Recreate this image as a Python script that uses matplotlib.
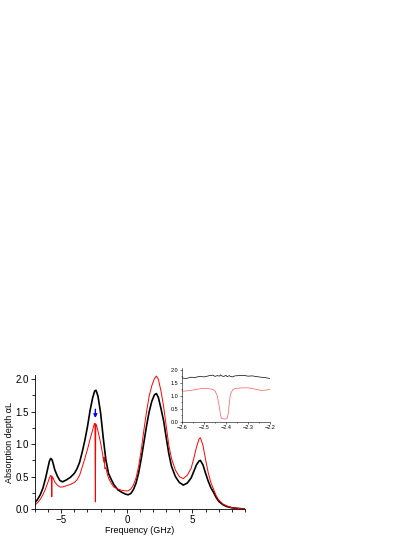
import numpy as np
import matplotlib.pyplot as plt
from matplotlib.ticker import MultipleLocator

plt.rcParams['font.family'] = ['Liberation Sans', 'DejaVu Sans']

# main spectrum
freq_black = [-7.0, -6.8, -6.6, -6.4, -6.2, -6.0, -5.9, -5.8, -5.7, -5.6, -5.5, -5.3, -5.1,
              -4.9, -4.6, -4.3, -4.0, -3.8, -3.6, -3.4, -3.2, -3.0, -2.8, -2.6, -2.45,
              -2.35, -2.2, -2.0, -1.8, -1.6, -1.4, -1.2, -1.0, -0.7, -0.4, -0.1, 0.1,
              0.3, 0.5, 0.7, 0.9, 1.1, 1.3, 1.5, 1.7, 1.9, 2.1, 2.25, 2.4, 2.6, 2.8,
              3.0, 3.2, 3.4, 3.7, 4.0, 4.3, 4.6, 4.9, 5.1, 5.3, 5.5, 5.6, 5.8, 6.0,
              6.2, 6.4, 6.6, 6.8, 7.0, 7.3, 7.6, 8.0, 8.5, 9.0]
abs_black = [0.10, 0.15, 0.22, 0.32, 0.47, 0.65, 0.74, 0.78, 0.76, 0.69, 0.61, 0.51, 0.44,
             0.42, 0.45, 0.49, 0.55, 0.62, 0.72, 0.88, 1.06, 1.27, 1.52, 1.72, 1.82,
             1.83, 1.74, 1.48, 1.10, 0.76, 0.55, 0.46, 0.38, 0.30, 0.26, 0.23, 0.22,
             0.24, 0.30, 0.40, 0.56, 0.78, 1.03, 1.28, 1.50, 1.66, 1.76, 1.78, 1.72, 1.55, 1.36,
             1.10, 0.85, 0.66, 0.50, 0.41, 0.37, 0.40, 0.48, 0.58, 0.68, 0.74, 0.75, 0.68, 0.55,
             0.43, 0.33, 0.26, 0.18, 0.12, 0.07, 0.04, 0.02, 0.01, 0.0]

freq_red = [-7.0, -6.8, -6.6, -6.4, -6.2, -6.0, -5.9, -5.8, -5.75, -5.72, -5.69, -5.6, -5.5,
            -5.3, -5.1, -4.9, -4.6, -4.3, -4.0, -3.8, -3.6, -3.4, -3.2, -3.0, -2.8,
            -2.6, -2.5, -2.43, -2.41, -2.40, -2.39, -2.37, -2.3, -2.2, -2.0, -1.85,
            -1.75, -1.72, -1.68, -1.6, -1.5, -1.4, -1.2, -1.0, -0.7, -0.4, -0.1, 0.1,
            0.3, 0.5, 0.7, 0.9, 1.1, 1.3, 1.5, 1.7, 1.9, 2.1, 2.25, 2.4, 2.6, 2.8,
            3.0, 3.2, 3.4, 3.7, 4.0, 4.3, 4.6, 4.9, 5.1, 5.3, 5.5, 5.6, 5.8, 6.0,
            6.2, 6.4, 6.6, 6.8, 7.0, 7.3, 7.6, 8.0, 8.5, 9.0]
abs_red = [0.06, 0.10, 0.15, 0.22, 0.31, 0.42, 0.48, 0.52, 0.51, 0.19, 0.50, 0.47, 0.42,
           0.37, 0.34, 0.34, 0.36, 0.38, 0.41, 0.45, 0.52, 0.65, 0.78, 0.92, 1.08,
           1.22, 1.30, 1.32, 0.40, 0.11, 0.40, 1.31, 1.28, 1.20, 1.02, 0.85,
           0.72, 0.80, 0.62, 0.64, 0.55, 0.48, 0.40, 0.34, 0.31, 0.29, 0.28, 0.28,
           0.31, 0.37, 0.48, 0.66, 0.92, 1.22, 1.50, 1.74, 1.90, 2.01, 2.05, 2.00, 1.82, 1.58,
           1.28, 0.98, 0.78, 0.60, 0.50, 0.47, 0.52, 0.63, 0.78, 0.95, 1.08, 1.10, 0.98, 0.76,
           0.56, 0.41, 0.31, 0.21, 0.14, 0.08, 0.05, 0.02, 0.01, 0.0]

# inset, zoom on the -2.4 GHz feature
ins_freq = [-2.60, -2.58, -2.56, -2.54, -2.52, -2.50, -2.48, -2.46, -2.45, -2.44, -2.43,
            -2.425, -2.42, -2.41, -2.40, -2.395, -2.39, -2.385, -2.38, -2.37, -2.36, -2.34,
            -2.32, -2.30, -2.28, -2.26, -2.24, -2.22, -2.20]
ins_black = [1.68, 1.66, 1.71, 1.70, 1.74, 1.72, 1.76, 1.79, 1.74, 1.77, 1.75,
             1.80, 1.76, 1.74, 1.78, 1.73, 1.75, 1.77, 1.74, 1.72, 1.76, 1.77,
             1.78, 1.75, 1.76, 1.73, 1.71, 1.69, 1.66]
ins_red = [1.17, 1.18, 1.20, 1.23, 1.26, 1.28, 1.27, 1.24, 1.18, 1.00, 0.55,
           0.25, 0.12, 0.10, 0.10, 0.12, 0.30, 0.70, 1.05, 1.22, 1.27, 1.29,
           1.30, 1.30, 1.27, 1.24, 1.20, 1.21, 1.24]

fig = plt.figure(figsize=(4.15, 5.37), dpi=100)
ax = fig.add_axes([0.0843, 0.052, 0.506, 0.249])
ax.plot(freq_black, abs_black, color='black', lw=1.2)
ax.plot(freq_red, abs_red, color='red', lw=0.7)
ax.annotate('', xy=(-2.4, 1.36), xytext=(-2.4, 1.58),
            arrowprops=dict(arrowstyle='-|>', color='blue', lw=1.0, mutation_scale=5))
ax.set_xlim(-7, 9)
ax.set_ylim(0, 2.06)
ax.xaxis.set_major_locator(MultipleLocator(5))
ax.xaxis.set_minor_locator(MultipleLocator(1))
ax.yaxis.set_major_locator(MultipleLocator(0.5))
ax.yaxis.set_minor_locator(MultipleLocator(0.25))
ax.tick_params(which='both', direction='out', labelsize=7, width=0.6, pad=1.5)
ax.tick_params(which='major', length=3)
ax.tick_params(which='minor', length=2)
for s in ['top', 'right']:
    ax.spines[s].set_visible(False)
for s in ['left', 'bottom']:
    ax.spines[s].set_linewidth(0.6)
ax.set_xlabel('Frequency (GHz)', fontsize=6.5, labelpad=0.5)
ax.set_ylabel('Absorption depth \u03b1L', fontsize=6.5, labelpad=1)

ins = fig.add_axes([0.4386, 0.215, 0.212, 0.100])
ins.plot(ins_freq, ins_black, color='black', lw=0.5)
ins.plot(ins_freq, ins_red, color='#ff5a5a', lw=0.5)
ins.set_xlim(-2.6, -2.2)
ins.set_ylim(0, 2.07)
ins.xaxis.set_major_locator(MultipleLocator(0.1))
ins.xaxis.set_minor_locator(MultipleLocator(0.05))
ins.yaxis.set_major_locator(MultipleLocator(0.5))
ins.yaxis.set_minor_locator(MultipleLocator(0.25))
ins.tick_params(which='both', direction='out', labelsize=4, width=0.4, pad=1)
ins.tick_params(which='major', length=1.5)
ins.tick_params(which='minor', length=1)
for s in ['top', 'right']:
    ins.spines[s].set_visible(False)
for s in ['left', 'bottom']:
    ins.spines[s].set_linewidth(0.4)

fig.savefig('out.png', dpi=100)
